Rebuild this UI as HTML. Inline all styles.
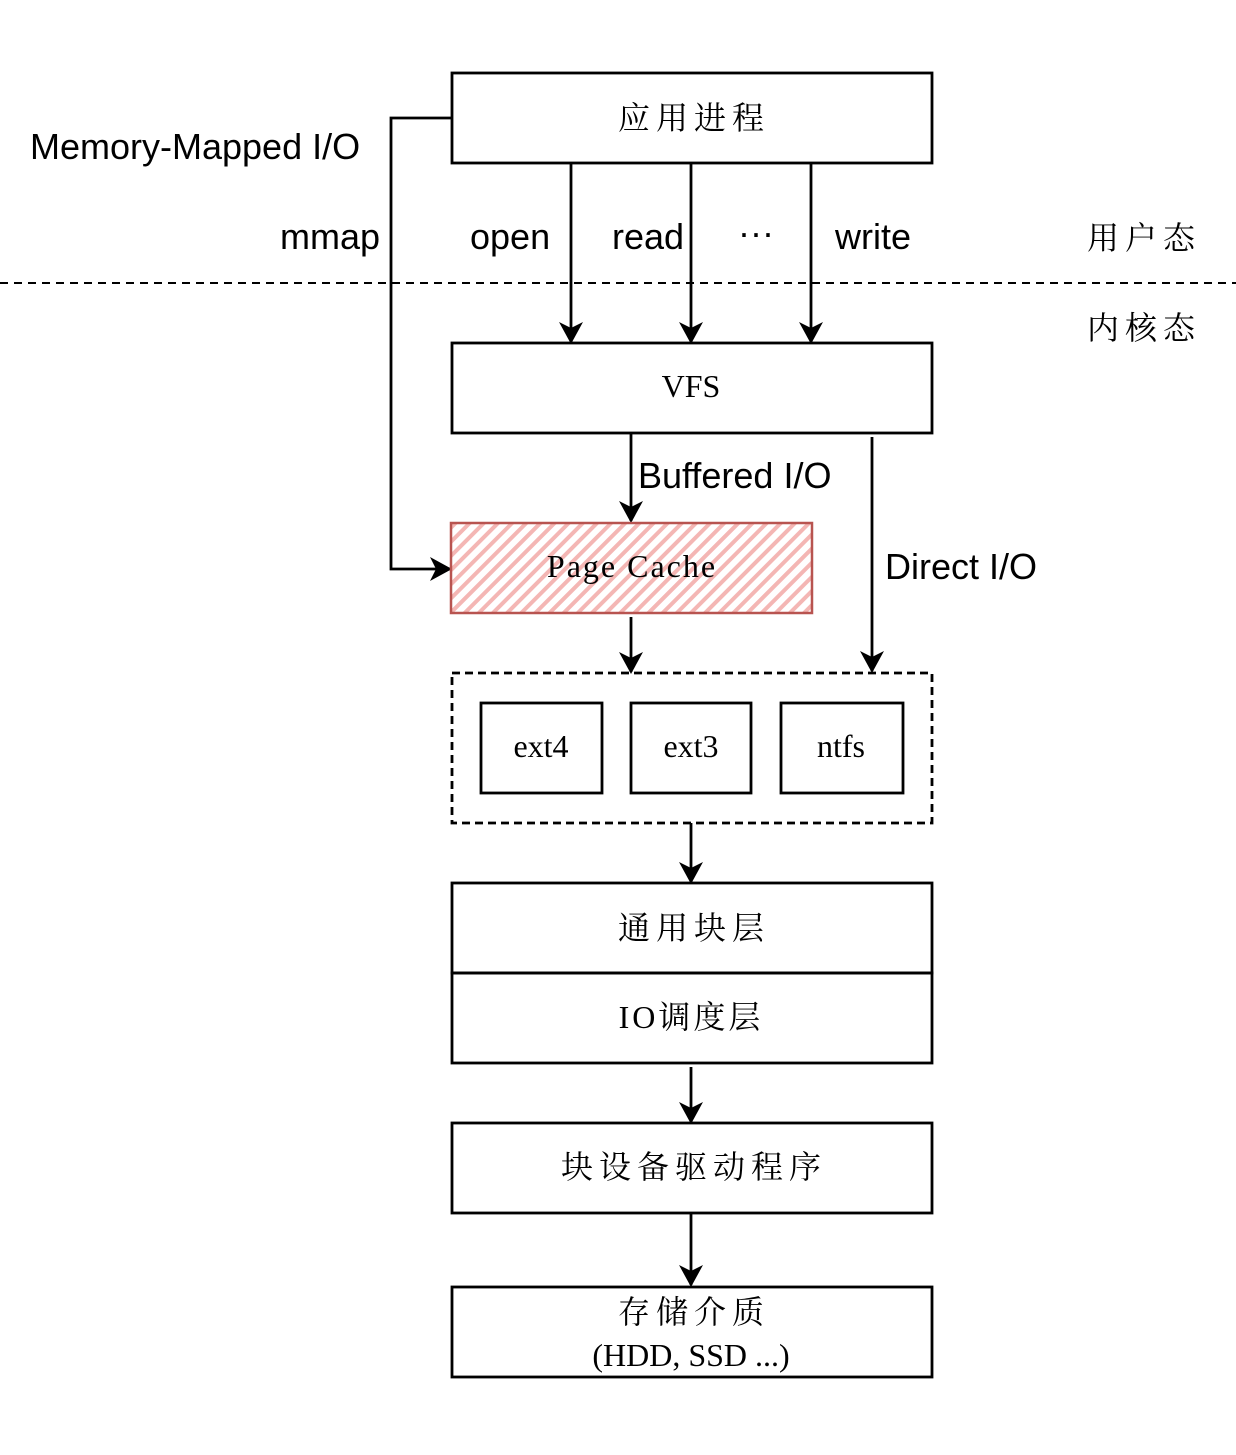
<!DOCTYPE html>
<html><head><meta charset="utf-8"><style>
html,body{margin:0;padding:0;background:#fff;}
svg{display:block}
.s{font-family:"Liberation Sans","Noto Sans CJK SC",sans-serif;font-size:36px;fill:#000}
.b{font-family:"Liberation Serif","Noto Serif CJK SC",serif;font-size:32px;fill:#000;text-anchor:middle}
.c{letter-spacing:6px}
</style></head><body>
<svg width="1236" height="1455" viewBox="0 0 1236 1455" xmlns="http://www.w3.org/2000/svg">
<defs>
<marker id="a" markerWidth="22" markerHeight="24" refX="20" refY="12" orient="auto" markerUnits="userSpaceOnUse">
<path d="M0,0 L22,12 L0,24 L6,12 Z" fill="#000"/></marker>
<pattern id="h" width="10" height="10" patternUnits="userSpaceOnUse" patternTransform="rotate(45)">
<rect width="10" height="10" fill="#fff"/><rect width="4" height="10" fill="#f4b6b4"/></pattern>
</defs>
<g fill="none" stroke="#000" stroke-width="2.8">
<rect x="452" y="73" width="480" height="90"/>
<rect x="452" y="343" width="480" height="90"/>
<rect x="452" y="883" width="480" height="90"/>
<rect x="452" y="973" width="480" height="90"/>
<rect x="452" y="1123" width="480" height="90"/>
<rect x="452" y="1287" width="480" height="90"/>
<rect x="481" y="703" width="121" height="90"/>
<rect x="631" y="703" width="120" height="90"/>
<rect x="781" y="703" width="122" height="90"/>
<rect x="452" y="673" width="480" height="150" stroke-dasharray="8,5"/>
<path d="M452,118 H391 V569 H450" marker-end="url(#a)"/>
<path d="M571,163 V342" marker-end="url(#a)"/>
<path d="M691,163 V342" marker-end="url(#a)"/>
<path d="M811,163 V342" marker-end="url(#a)"/>
<path d="M631,433 V521" marker-end="url(#a)"/>
<path d="M872,437 V671" marker-end="url(#a)"/>
<path d="M631,617 V672" marker-end="url(#a)"/>
<path d="M691,823 V882" marker-end="url(#a)"/>
<path d="M691,1067 V1122" marker-end="url(#a)"/>
<path d="M691,1213 V1285" marker-end="url(#a)"/>
<path d="M0,283 H1236" stroke-width="2" stroke-dasharray="8,6"/>
</g>
<rect x="451" y="523" width="361" height="90" fill="url(#h)" stroke="#b85450" stroke-width="2.5"/>
<text class="s" x="30" y="159">Memory-Mapped I/O</text>
<text class="s" x="280" y="249">mmap</text>
<text class="s" x="470" y="249">open</text>
<text class="s" x="612" y="249">read</text>
<text class="s" x="738" y="245">···</text>
<text class="s" x="835" y="249">write</text>
<text class="s" x="638" y="488">Buffered I/O</text>
<text class="s" x="885" y="579">Direct I/O</text>
<text class="b c" x="1144" y="249">用户态</text>
<text class="b c" x="1144" y="339">内核态</text>
<text class="b c" x="694" y="129">应用进程</text>
<text class="b" x="691" y="397">VFS</text>
<text class="b" x="632" y="577" style="letter-spacing:2px">Page Cache</text>
<text class="b" x="541" y="757">ext4</text>
<text class="b" x="691" y="757">ext3</text>
<text class="b" x="841" y="757">ntfs</text>
<text class="b c" x="694" y="939">通用块层</text>
<text class="b" x="691" y="1028" style="letter-spacing:3px">IO调度层</text>
<text class="b c" x="694" y="1178">块设备驱动程序</text>
<text class="b c" x="694" y="1323">存储介质</text>
<text class="b" x="691" y="1366">(HDD, SSD ...)</text>
</svg>
</body></html>
